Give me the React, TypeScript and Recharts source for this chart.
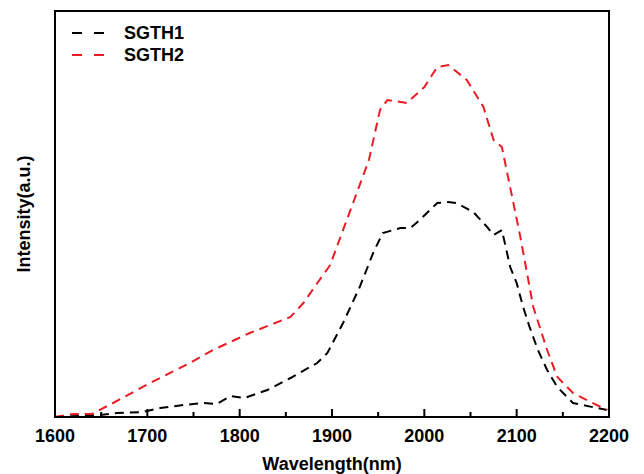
import React from 'react';
import {
  LineChart, Line, XAxis, YAxis, Label
} from 'recharts';

// Wavelength (nm) and intensity (a.u.)
const sgth1Wavelength = [1600, 1648, 1667, 1695, 1714, 1739, 1760, 1775, 1790, 1805, 1830, 1855, 1884, 1895, 1912, 1930, 1945, 1955, 1974, 1985, 1995, 2014, 2026, 2035, 2053, 2068, 2075, 2084, 2093, 2100, 2107, 2114, 2123, 2133, 2144, 2161, 2187, 2198];
const sgth1Intensity = [0, 2, 4, 5, 9, 12, 14, 13, 21, 19, 27, 39, 54, 64, 94, 130, 165, 184, 189, 189, 197, 214, 215, 214, 205, 190, 182, 187, 150, 134, 110, 90, 67, 47, 30, 14, 9, 7];

const sgth2Wavelength = [1600, 1620, 1640, 1663, 1703, 1746, 1771, 1811, 1855, 1869, 1898, 1912, 1940, 1952, 1960, 1981, 2000, 2014, 2026, 2046, 2064, 2075, 2084, 2104, 2118, 2133, 2144, 2161, 2180, 2198];
const sgth2Intensity = [0, 3, 3, 14, 34, 54, 67, 84, 100, 114, 152, 187, 257, 307, 317, 314, 330, 350, 352, 337, 310, 277, 270, 180, 110, 67, 40, 24, 15, 7];

const xTicks = [1600, 1650, 1700, 1750, 1800, 1850, 1900, 1950, 2000, 2050, 2100, 2150, 2200];

const FONT = '"Liberation Sans", Arial, sans-serif';
const RED = '#ec1c24';
const BLACK = '#000000';

const sgth1 = sgth1Wavelength.map((w, i) => ({ w, v: sgth1Intensity[i] }));
const sgth2 = sgth2Wavelength.map((w, i) => ({ w, v: sgth2Intensity[i] }));

const legendItems = [{ name: 'SGTH1', color: BLACK }, { name: 'SGTH2', color: RED }];

// ticks point into the plot, labels only on the hundreds
const InwardTick = (props: any) => {
  const { x, y, payload } = props;
  const major = payload.value % 100 === 0;
  return (
    <g>
      <path d={`M${x},${y}V${y - (major ? 8 : 5)}`} stroke={BLACK} strokeWidth={2} fill="none" />
      {major && (
        <text x={x} y={y + 25} textAnchor="middle" fontFamily={FONT} fontWeight="bold" fontSize={18} fill={BLACK}>
          {payload.value}
        </text>
      )}
    </g>
  );
};

export default function App() {
  return (
    <div style={{ position: 'relative', width: 644, height: 474 }}>
      <style>{'body{margin:0}'}</style>
      <LineChart width={644} height={474} margin={{ top: 11, right: 35, left: 0, bottom: 0 }}>
        <XAxis
          dataKey="w"
          type="number"
          domain={[1600, 2200]}
          ticks={xTicks}
          interval={0}
          tickSize={0}
          tickMargin={0}
          tickLine={false}
          height={57}
          stroke={BLACK}
          strokeWidth={2}
          tick={<InwardTick />}
        >
          <Label value="Wavelength(nm)" position="insideBottom" offset={4}
            style={{ fontFamily: FONT, fontWeight: 'bold', fontSize: 18, fill: BLACK }} />
        </XAxis>
        <YAxis
          type="number"
          domain={[0, 406]}
          width={55}
          tick={false}
          stroke={BLACK}
          strokeWidth={2}
        >
          <Label value="Intensity(a.u.)" angle={-90} position="insideLeft" offset={24}
            style={{ fontFamily: FONT, fontWeight: 'bold', fontSize: 18, fill: BLACK, textAnchor: 'middle' }} />
        </YAxis>
        <Line data={sgth1} dataKey="v" name="SGTH1" type="linear" stroke={BLACK} strokeWidth={2}
          strokeDasharray="9 6" dot={false} isAnimationActive={false} />
        <Line data={sgth2} dataKey="v" name="SGTH2" type="linear" stroke={RED} strokeWidth={2}
          strokeDasharray="9 6" dot={false} isAnimationActive={false} />
      </LineChart>
      {/* plot frame drawn over the chart */}
      <div style={{
        position: 'absolute', left: 54, top: 10, width: 556, height: 408,
        border: `2px solid ${BLACK}`, boxSizing: 'border-box', pointerEvents: 'none'
      }} />
      <div style={{ position: 'absolute', left: 70, top: 22, fontFamily: FONT, fontWeight: 'bold', fontSize: 18, color: BLACK }}>
        {legendItems.map(item => (
          <div key={item.name} style={{ display: 'flex', alignItems: 'center', height: 22 }}>
            <svg width={34} height={10} style={{ marginRight: 20 }}>
              <line x1={2} x2={34} y1={5} y2={5} stroke={item.color} strokeWidth={2} strokeDasharray="10 12" />
            </svg>
            <span>{item.name}</span>
          </div>
        ))}
      </div>
    </div>
  );
}
